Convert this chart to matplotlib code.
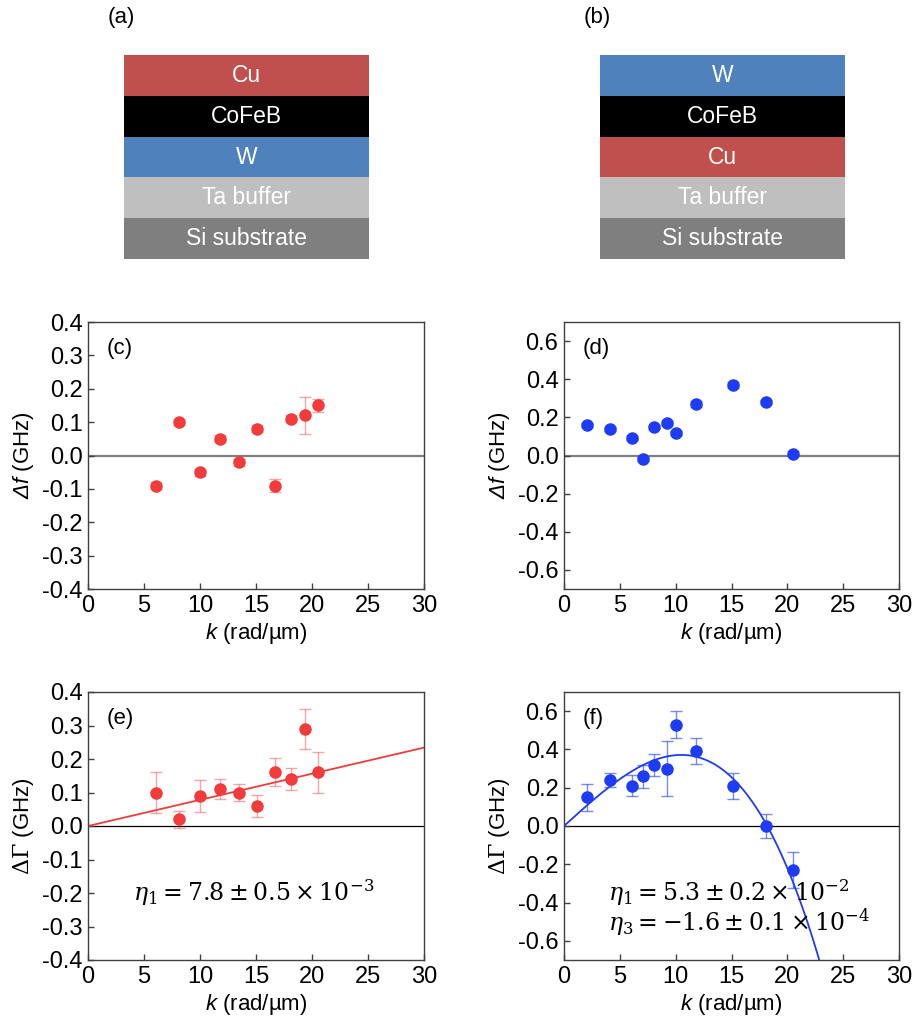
import numpy as np
import matplotlib
matplotlib.use("Agg")
import matplotlib.pyplot as plt

plt.rcParams["font.family"] = ["Liberation Sans", "DejaVu Sans"]
plt.rcParams["axes.unicode_minus"] = False
plt.rcParams["mathtext.fontset"] = "custom"
plt.rcParams["mathtext.rm"] = "DejaVu Serif"
plt.rcParams["mathtext.it"] = "DejaVu Serif:italic"
plt.rcParams["mathtext.sf"] = "Liberation Sans:italic"

# layer stacks, top to bottom
stack_a = ["Cu", "CoFeB", "W", "Ta buffer", "Si substrate"]
stack_b = ["W", "CoFeB", "Cu", "Ta buffer", "Si substrate"]
layer_colors = {"Cu": "#C0504D", "CoFeB": "#000000", "W": "#4F81BD",
                "Ta buffer": "#BFBFBF", "Si substrate": "#7F7F7F"}

# (c) delta f, stack (a)
k_c = [6.1, 8.1, 10.0, 11.8, 13.5, 15.1, 16.7, 18.1, 19.4, 20.5]
df_c = [-0.09, 0.10, -0.05, 0.05, -0.02, 0.08, -0.09, 0.11, 0.12, 0.15]
df_c_err = [0.01, 0.01, 0.01, 0.01, 0.01, 0.01, 0.02, 0.01, 0.056, 0.019]

# (d) delta f, stack (b)
k_d = [2.1, 4.1, 6.1, 7.1, 8.1, 9.2, 10.0, 11.8, 15.1, 18.1, 20.5]
df_d = [0.16, 0.14, 0.09, -0.02, 0.15, 0.17, 0.12, 0.27, 0.37, 0.28, 0.01]
df_d_err = [0.01, 0.01, 0.01, 0.01, 0.01, 0.01, 0.01, 0.015, 0.015, 0.01, 0.015]

# (e) delta Gamma, stack (a)
k_e = [6.1, 8.1, 10.0, 11.8, 13.5, 15.1, 16.7, 18.1, 19.4, 20.5]
dg_e = [0.10, 0.02, 0.09, 0.11, 0.10, 0.06, 0.16, 0.14, 0.29, 0.16]
dg_e_err = [0.06, 0.025, 0.047, 0.03, 0.026, 0.033, 0.042, 0.034, 0.06, 0.06]
eta1_e = 7.8e-3

# (f) delta Gamma, stack (b)
k_f = [2.1, 4.1, 6.1, 7.1, 8.1, 9.2, 10.0, 11.8, 15.1, 18.1, 20.5]
dg_f = [0.15, 0.24, 0.21, 0.26, 0.32, 0.30, 0.53, 0.39, 0.21, 0.00, -0.23]
dg_f_err = [0.07, 0.038, 0.055, 0.061, 0.058, 0.143, 0.07, 0.068, 0.069, 0.061, 0.096]
eta1_f, eta3_f = 5.3e-2, -1.6e-4

yticks_small = [-0.4, -0.3, -0.2, -0.1, 0.0, 0.1, 0.2, 0.3, 0.4]
yticks_big = [-0.6, -0.4, -0.2, 0.0, 0.2, 0.4, 0.6]
xticks = [0, 5, 10, 15, 20, 25, 30]

RED = "#F23B3B"
BLUE = "#1E3CF5"
RED_E = (0.95, 0.23, 0.23, 0.45)
BLUE_E = (0.12, 0.24, 0.96, 0.6)
W, H = 917, 1030


def px_axes(fig, x0, y0, x1, y1):
    return fig.add_axes([x0 / W, 1 - y1 / H, (x1 - x0) / W, (y1 - y0) / H])


def draw_stack(ax, layers):
    n = len(layers)
    ax.barh(range(n), [1] * n, height=1.0, left=0,
            color=[layer_colors[l] for l in layers], edgecolor="none")
    for i, l in enumerate(layers):
        ax.text(0.5, i, l, color="white", ha="center", va="center", fontsize=16.5)
    ax.set_xlim(0, 1)
    ax.set_ylim(n - 0.5, -0.5)
    ax.axis("off")


def style(ax, ylim, yticks, ylabel, panel, zero_color, zero_lw):
    ax.set_xlim(0, 30)
    ax.set_ylim(*ylim)
    ax.set_xticks(xticks)
    ax.set_yticks(yticks)
    ax.set_yticklabels([f"{t:.1f}" for t in yticks])
    ax.axhline(0, color=zero_color, lw=zero_lw, zorder=1)
    ax.tick_params(direction="in", length=4.5, width=1, labelsize=17, pad=4,
                   top=False, right=False, color="#404040")
    for s in ax.spines.values():
        s.set_color("#404040")
        s.set_linewidth(1)
    ax.set_xlabel(r"$\mathsf{k}$ (rad/µm)", fontsize=16, labelpad=3)
    ax.set_ylabel(ylabel, fontsize=16, labelpad=4)
    ax.text(0.055, 0.90, panel, transform=ax.transAxes, fontsize=16,
            ha="left", va="center")


fig = plt.figure(figsize=(W / 100, H / 100), dpi=100)

ax_a = px_axes(fig, 124, 55, 369, 259)
draw_stack(ax_a, stack_a)
fig.text(121 / W, 1 - 17 / H, "(a)", fontsize=16, ha="center", va="center")
ax_b = px_axes(fig, 600, 55, 845, 259)
draw_stack(ax_b, stack_b)
fig.text(597 / W, 1 - 17 / H, "(b)", fontsize=16, ha="center", va="center")

ax_c = px_axes(fig, 88, 322, 424, 589)
ax_d = px_axes(fig, 564, 322, 899, 589)
ax_e = px_axes(fig, 88, 692, 424, 960)
ax_f = px_axes(fig, 564, 692, 899, 960)

ek = dict(fmt="o", ms=8, capsize=4, elinewidth=1, capthick=1, zorder=3)
ax_c.errorbar(k_c, df_c, yerr=df_c_err, color=RED, ecolor=RED_E, **ek)
ax_d.errorbar(k_d, df_d, yerr=df_d_err, color=BLUE, ecolor=BLUE_E, **ek)
ax_e.errorbar(k_e, dg_e, yerr=dg_e_err, color=RED, ecolor=RED_E, **ek)
ax_f.errorbar(k_f, dg_f, yerr=dg_f_err, color=BLUE, ecolor=BLUE_E, **ek)

kk = np.linspace(0, 30, 400)
ax_e.plot(kk, eta1_e * kk, color=RED, lw=1.3, zorder=2)
ax_f.plot(kk, eta1_f * kk + eta3_f * kk ** 3, color=BLUE, lw=1.3, zorder=2)

style(ax_c, (-0.4, 0.4), yticks_small, r"$\mathsf{\Delta f}$ (GHz)", "(c)", "#808080", 1.6)
style(ax_d, (-0.7, 0.7), yticks_big, r"$\mathsf{\Delta f}$ (GHz)", "(d)", "#808080", 1.6)
style(ax_e, (-0.4, 0.4), yticks_small, r"$\Delta\Gamma$ (GHz)", "(e)", "black", 0.9)
style(ax_f, (-0.7, 0.7), yticks_big, r"$\Delta\Gamma$ (GHz)", "(f)", "black", 0.9)

ax_e.text(0.135, 0.25, r"$\eta_1 = 7.8 \pm 0.5 \times 10^{-3}$", transform=ax_e.transAxes,
          fontsize=17, ha="left", va="center")
ax_f.text(0.13, 0.25, r"$\eta_1 = 5.3 \pm 0.2 \times 10^{-2}$", transform=ax_f.transAxes,
          fontsize=17, ha="left", va="center")
ax_f.text(0.13, 0.14, r"$\eta_3 = -1.6 \pm 0.1 \times 10^{-4}$", transform=ax_f.transAxes,
          fontsize=17, ha="left", va="center")

fig.savefig("out.png", dpi=100, facecolor="white")
